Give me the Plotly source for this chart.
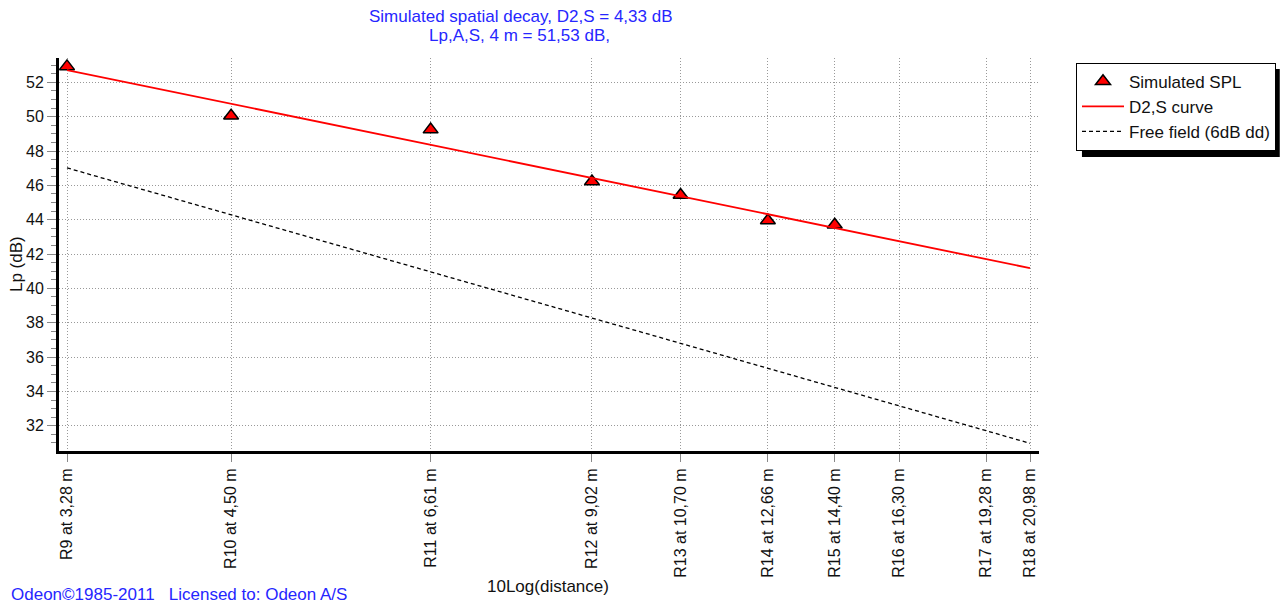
import plotly.graph_objects as go

# ---- data ----
receivers = ["R9", "R10", "R11", "R12", "R13", "R14", "R15", "R16", "R17", "R18"]
distances = [3.28, 4.50, 6.61, 9.02, 10.70, 12.66, 14.40, 16.30, 19.28, 20.98]
tick_labels = ["R9 at 3,28 m", "R10 at 4,50 m", "R11 at 6,61 m", "R12 at 9,02 m",
               "R13 at 10,70 m", "R14 at 12,66 m", "R15 at 14,40 m", "R16 at 16,30 m",
               "R17 at 19,28 m", "R18 at 20,98 m"]

spl_dist = [3.28, 4.50, 6.61, 9.02, 10.70, 12.66, 14.40]
spl_values = [52.93, 50.06, 49.25, 46.23, 45.44, 43.96, 43.71]

d2s_dist = [3.28, 20.98]
d2s_values = [52.72, 41.18]

ff_dist = [3.28, 20.98]
ff_values = [47.02, 30.98]

FONT = "Liberation Sans, Arial, sans-serif"
BLUE = "#2626ff"

# plot area in pixels
L, R, T, B = 59, 1040, 58, 451
W, H = R - L, B - T


def px(x):
    return (x - L) / W


def py(y):
    return (B - y) / H


fig = go.Figure()
fig.add_trace(go.Scatter(
    x=spl_dist, y=spl_values, mode="markers", name="Simulated SPL",
    marker=dict(symbol="triangle-up", size=13, color="#ff0000",
                line=dict(color="black", width=1.5)),
))
fig.add_trace(go.Scatter(
    x=d2s_dist, y=d2s_values, mode="lines", name="D2,S curve",
    line=dict(color="#ff0000", width=1.8),
))
fig.add_trace(go.Scatter(
    x=ff_dist, y=ff_values, mode="lines", name="Free field (6dB dd)",
    line=dict(color="black", width=1.3, dash="4px,3px"),
))

fig.update_layout(
    width=1287, height=603,
    margin=dict(l=L, r=1287 - R, t=T, b=603 - B, pad=0),
    paper_bgcolor="white", plot_bgcolor="white",
    font=dict(family=FONT, size=17, color="#111"),
    showlegend=True,
    legend=dict(
        x=px(1076), y=py(62.7), xanchor="left", yanchor="top",
        bgcolor="white", bordercolor="black", borderwidth=1,
        font=dict(size=17, family=FONT, color="#111"),
        itemwidth=42, tracegroupgap=0,
    ),
    shapes=[dict(
        type="rect", xref="paper", yref="paper",
        x0=px(1083), x1=px(1281), y0=py(157), y1=py(69),
        fillcolor="black", line=dict(width=0), layer="above",
    )],
    annotations=[
        dict(text="Simulated spatial decay, D2,S = 4,33 dB", xref="paper", yref="paper",
             x=px(521), y=py(16), xanchor="center", yanchor="middle", showarrow=False,
             font=dict(size=17, color=BLUE, family=FONT)),
        dict(text="Lp,A,S, 4 m = 51,53 dB,", xref="paper", yref="paper",
             x=px(520), y=py(35), xanchor="center", yanchor="middle", showarrow=False,
             font=dict(size=17, color=BLUE, family=FONT)),
        dict(text="Lp (dB)", xref="paper", yref="paper", textangle=-90,
             x=px(16), y=py(264), xanchor="center", yanchor="middle", showarrow=False,
             font=dict(size=17, color="#111", family=FONT)),
        dict(text="10Log(distance)", xref="paper", yref="paper",
             x=px(548), y=py(586), xanchor="center", yanchor="middle", showarrow=False,
             font=dict(size=17, color="#111", family=FONT)),
        dict(text="Odeon©1985-2011\u00a0\u00a0\u00a0Licensed to: Odeon A/S", xref="paper", yref="paper",
             x=px(9), y=py(583), xanchor="left", yanchor="top", showarrow=False,
             font=dict(size=17, color=BLUE, family=FONT)),
    ],
)

fig.update_xaxes(
    type="log", range=[0.50918, 1.32933],
    tickmode="array", tickvals=distances, ticktext=tick_labels, tickangle=-90,
    ticks="outside", ticklen=8, tickcolor="#888", tickwidth=1,
    showgrid=True, gridcolor="#999", gridwidth=1, griddash="1px,2px",
    showline=True, linecolor="black", linewidth=3,
    zeroline=False, tickfont=dict(size=16, family=FONT, color="#111"),
)
fig.update_yaxes(
    range=[30.53, 53.42], tick0=0, dtick=2,
    ticks="outside", ticklen=9, tickcolor="#888", tickwidth=1,
    minor=dict(dtick=0.5, ticks="outside", ticklen=5, tickcolor="#888", showgrid=False),
    showgrid=True, gridcolor="#999", gridwidth=1, griddash="1px,2px",
    showline=True, linecolor="black", linewidth=3,
    zeroline=False, tickfont=dict(size=16, family=FONT, color="#111"),
)

fig.write_html("out.html", config={"displayModeBar": False},
               post_script="document.body.style.margin='0';")
